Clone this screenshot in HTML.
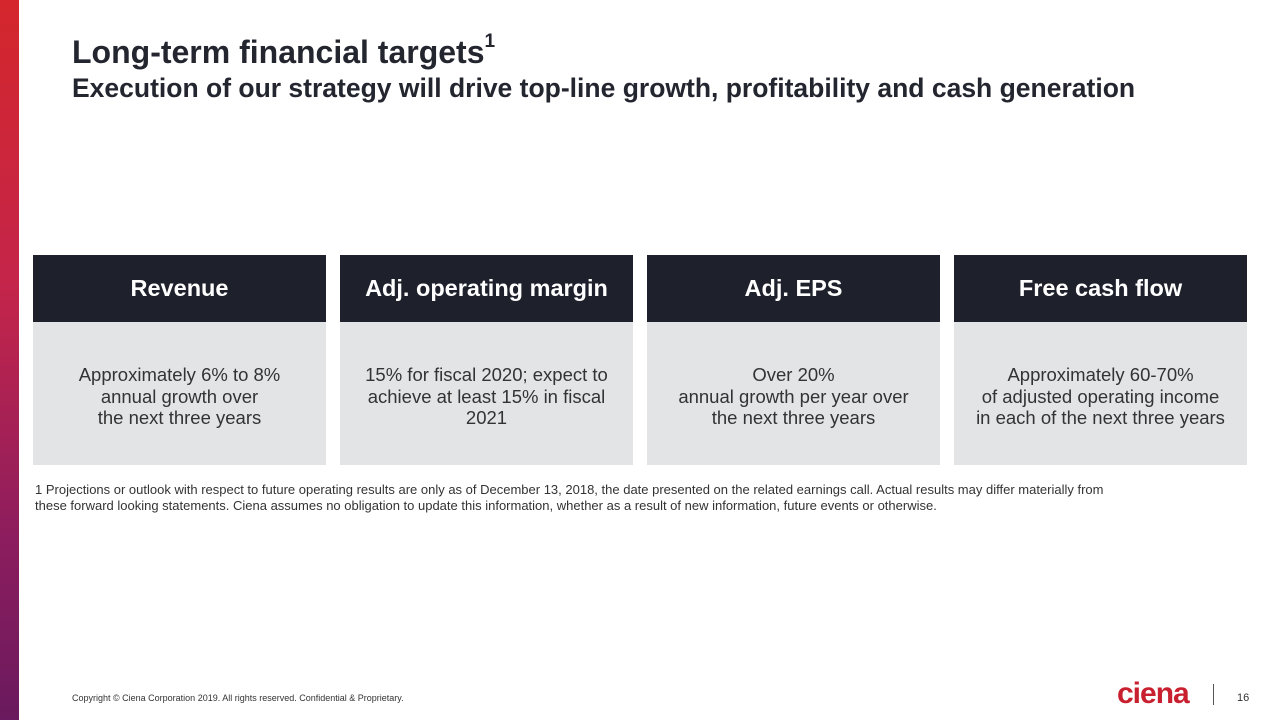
<!DOCTYPE html>
<html><head><meta charset="utf-8"><style>
body{margin:0;width:1280px;height:720px;position:relative;background:#fff;font-family:"Liberation Sans",Arial,sans-serif;overflow:hidden}
.bar{position:absolute;left:0;top:0;width:19px;height:720px;background:linear-gradient(#d4262c,#c4254a 40%,#8c1d5e 75%,#6a1a5e)}
.t1{position:absolute;left:72px;top:34px;font-size:32px;font-weight:bold;color:#23252f}
.t1 sup{font-size:19px;position:relative;top:-4px}
.t2{position:absolute;left:72px;top:73px;font-size:26.5px;font-weight:bold;color:#23252f}
.box{position:absolute;top:255px;width:293px;height:210px}
.h{height:67px;background:#1e212b;color:#fff;font-size:23.5px;font-weight:bold;text-align:center;line-height:67px}
.b{height:143px;background:#e3e4e6;color:#333;font-size:18.5px;text-align:center;line-height:21.5px;padding-top:42px;box-sizing:border-box}
.fn{position:absolute;left:35px;top:482px;font-size:13px;color:#333;line-height:16px}
.cp{position:absolute;left:72px;top:693px;font-size:9px;color:#333}
.logo{position:absolute;left:1117px;top:677px;font-size:30px;font-weight:bold;color:#c8202f;letter-spacing:-1px}
.sep{position:absolute;left:1213px;top:684px;width:1px;height:21px;background:#555}
.pg{position:absolute;left:1237px;top:692px;font-size:11px;color:#333}
</style></head><body>
<div class="bar"></div>
<div class="t1">Long-term financial targets<sup>1</sup></div>
<div class="t2">Execution of our strategy will drive top-line growth, profitability and cash generation</div>
<div class="box" style="left:33px"><div class="h">Revenue</div><div class="b">Approximately 6% to 8%<br>annual growth over<br>the next three years</div></div>
<div class="box" style="left:340px"><div class="h">Adj. operating margin</div><div class="b">15% for fiscal 2020; expect to<br>achieve at least 15% in fiscal<br>2021</div></div>
<div class="box" style="left:647px"><div class="h">Adj. EPS</div><div class="b">Over 20%<br>annual growth per year over<br>the next three years</div></div>
<div class="box" style="left:954px"><div class="h">Free cash flow</div><div class="b">Approximately 60-70%<br>of adjusted operating income<br>in each of the next three years</div></div>
<div class="fn">1 Projections or outlook with respect to future operating results are only as of December 13, 2018, the date presented on the related earnings call. Actual results may differ materially from<br>these forward looking statements. Ciena assumes no obligation to update this information, whether as a result of new information, future events or otherwise.</div>
<div class="cp">Copyright © Ciena Corporation 2019. All rights reserved. Confidential &amp; Proprietary.</div>
<div class="logo">ciena</div>
<div class="sep"></div>
<div class="pg">16</div>
</body></html>
